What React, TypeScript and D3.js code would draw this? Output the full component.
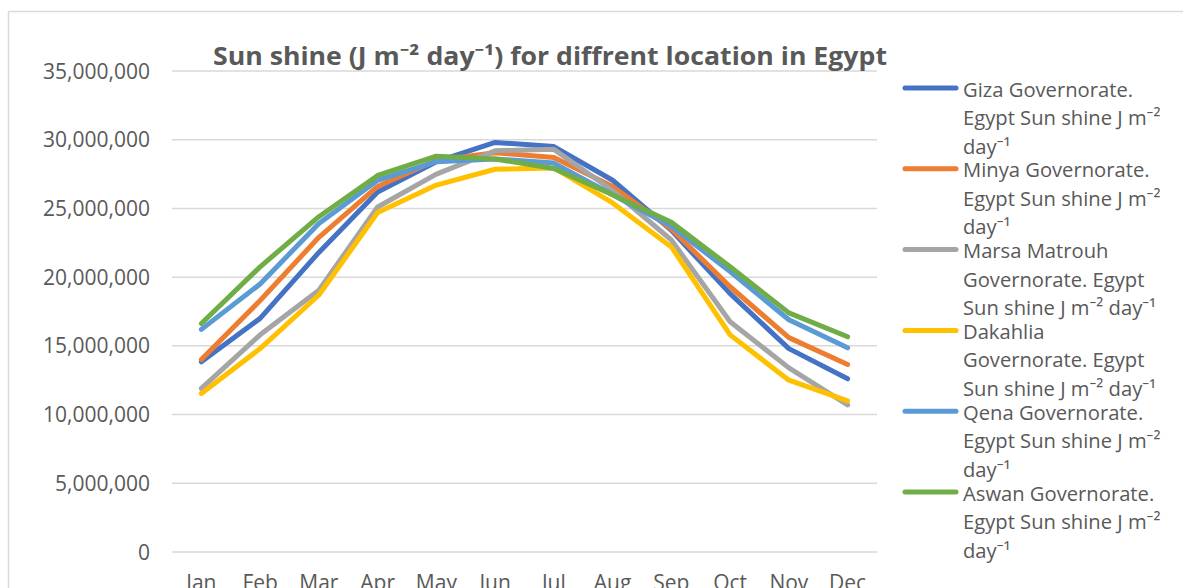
import React from "react";
import * as d3 from "d3";

const months = ["Jan", "Feb", "Mar", "Apr", "May", "Jun", "Jul", "Aug", "Sep", "Oct", "Nov", "Dec"];
const yTicks = [0, 5000000, 10000000, 15000000, 20000000, 25000000, 30000000, 35000000];

const giza = [13840000, 17000000, 21800000, 26200000, 28400000, 29800000, 29500000, 27050000, 23400000, 18800000, 14800000, 12600000];
const minya = [14000000, 18300000, 22900000, 26600000, 28500000, 29050000, 28700000, 26600000, 23500000, 19300000, 15600000, 13650000];
const marsa = [11900000, 15800000, 19050000, 25100000, 27500000, 29200000, 29300000, 26300000, 22700000, 16750000, 13400000, 10700000];
const dakahlia = [11540000, 14800000, 18700000, 24700000, 26700000, 27850000, 27950000, 25400000, 22200000, 15800000, 12500000, 11000000];
const qena = [16200000, 19500000, 23900000, 27050000, 28400000, 28600000, 28300000, 26000000, 23700000, 20400000, 16900000, 14860000];
const aswan = [16630000, 20750000, 24400000, 27400000, 28800000, 28600000, 27900000, 26000000, 24000000, 20750000, 17400000, 15660000];

const seriesNames = [
  ["Giza Governorate.", "Egypt Sun shine J m⁻²", "day⁻¹"],
  ["Minya Governorate.", "Egypt Sun shine J m⁻²", "day⁻¹"],
  ["Marsa Matrouh", "Governorate. Egypt", "Sun shine J m⁻² day⁻¹"],
  ["Dakahlia", "Governorate. Egypt", "Sun shine J m⁻² day⁻¹"],
  ["Qena Governorate.", "Egypt Sun shine J m⁻²", "day⁻¹"],
  ["Aswan Governorate.", "Egypt Sun shine J m⁻²", "day⁻¹"],
];
const seriesValues = [giza, minya, marsa, dakahlia, qena, aswan];
const colors = ["#4472C4", "#ED7D31", "#A5A5A5", "#FFC000", "#5B9BD5", "#70AD47"];

const W = 1183;
const H = 588;
const textColor = "#595959";
const gridColor = "#D9D9D9";
const font = "'Open Sans', 'Noto Sans', sans-serif";

export default function App() {
  const x = d3.scaleBand<string>().domain(months).range([172, 877]);
  const y = d3.scaleLinear().domain([0, 35000000]).range([552, 71]);
  const fmt = d3.format(",");
  const line = d3
    .line<number>()
    .x((_, i) => (x(months[i]) as number) + x.bandwidth() / 2)
    .y((d) => y(d));

  return (
    <svg width={W} height={H} style={{ position: "absolute", left: 0, top: 0, background: "#fff" }}>
      <rect x={0} y={0} width={W} height={H} fill="#fff" />
      {/* chart frame */}
      <line x1={8.5} y1={11.5} x2={W} y2={11.5} stroke={gridColor} strokeWidth={1.5} />
      <line x1={8.5} y1={11.5} x2={8.5} y2={H} stroke={gridColor} strokeWidth={1.5} />

      {/* gridlines and y labels */}
      {yTicks.map((t) => (
        <g key={t}>
          <line x1={172} x2={877} y1={y(t)} y2={y(t)} stroke={gridColor} strokeWidth={1.5} />
          <text
            x={150}
            y={y(t)}
            dy="0.36em"
            textAnchor="end"
            fontFamily={font}
            fontSize={21}
            fill={textColor}
          >
            {fmt(t)}
          </text>
        </g>
      ))}

      {/* x labels */}
      {months.map((m) => (
        <text
          key={m}
          x={(x(m) as number) + x.bandwidth() / 2}
          y={590}
          textAnchor="middle"
          fontFamily={font}
          fontSize={21}
          fill={textColor}
        >
          {m}
        </text>
      ))}

      {/* lines */}
      {seriesValues.map((vals, i) => (
        <path
          key={i}
          d={line(vals) as string}
          fill="none"
          stroke={colors[i]}
          strokeWidth={5}
          strokeLinecap="round"
          strokeLinejoin="round"
        />
      ))}

      {/* title */}
      <text
        x={550}
        y={65}
        textAnchor="middle"
        fontFamily={font}
        fontWeight="bold"
        fontSize={25}
        fill={textColor}
        textLength={674}
        lengthAdjust="spacingAndGlyphs"
      >
        Sun shine (J m⁻² day⁻¹) for diffrent location in Egypt
      </text>

      {/* legend */}
      {seriesNames.map((lines, i) => {
        const ly = 88 + i * 80.8;
        return (
          <g key={i}>
            <line x1={905} x2={956} y1={ly} y2={ly} stroke={colors[i]} strokeWidth={5} strokeLinecap="round" />
            {lines.map((t, j) => (
              <text
                key={j}
                x={963}
                y={ly + 8.5 + j * 28.5}
                fontFamily={font}
                fontSize={20.2}
                fill={textColor}
              >
                {t}
              </text>
            ))}
          </g>
        );
      })}
    </svg>
  );
}
